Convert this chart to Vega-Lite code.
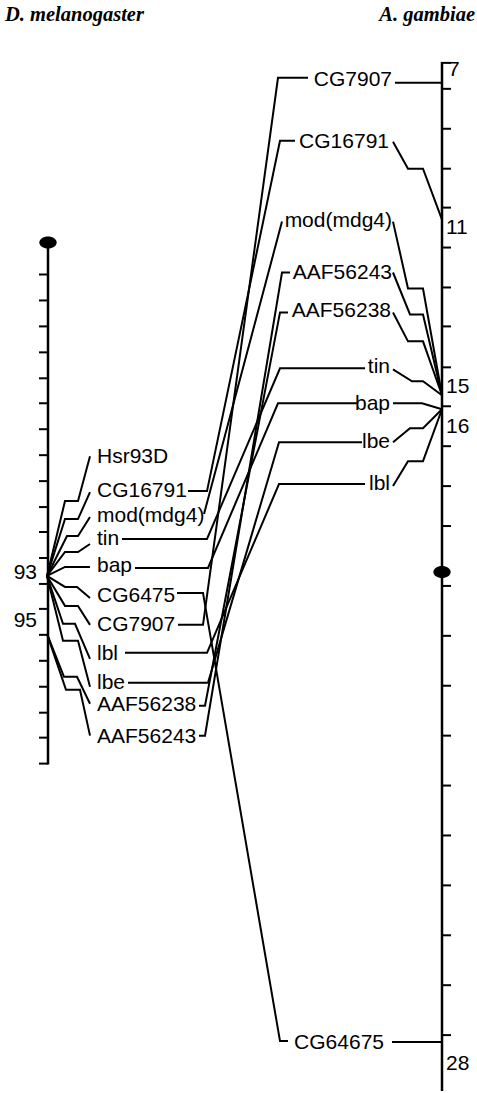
{
  "$schema": "https://vega.github.io/schema/vega-lite/v6.json",
  "width": 477,
  "height": 1093,
  "padding": 0,
  "autosize": {"type": "fit", "contains": "padding"},
  "background": "white",
  "config": {"view": {"stroke": null}},
  "datasets": {
    "paths": [
      {"g":"Hsr93D_L","i":0,"x":47,"y":577},{"g":"Hsr93D_L","i":1,"x":65,"y":502},{"g":"Hsr93D_L","i":2,"x":78,"y":502},{"g":"Hsr93D_L","i":3,"x":90,"y":457},
      {"g":"CG16791_L","i":0,"x":47,"y":577},{"g":"CG16791_L","i":1,"x":65,"y":520},{"g":"CG16791_L","i":2,"x":78,"y":520},{"g":"CG16791_L","i":3,"x":90,"y":493},
      {"g":"mod_L","i":0,"x":47,"y":577},{"g":"mod_L","i":1,"x":67,"y":537},{"g":"mod_L","i":2,"x":78,"y":537},{"g":"mod_L","i":3,"x":90,"y":518},
      {"g":"tin_L","i":0,"x":47,"y":577},{"g":"tin_L","i":1,"x":65,"y":553},{"g":"tin_L","i":2,"x":78,"y":553},{"g":"tin_L","i":3,"x":90,"y":545},
      {"g":"bap_L","i":0,"x":47,"y":577},{"g":"bap_L","i":1,"x":65,"y":568},{"g":"bap_L","i":2,"x":90,"y":568},
      {"g":"CG6475_L","i":0,"x":47,"y":577},{"g":"CG6475_L","i":1,"x":65,"y":588},{"g":"CG6475_L","i":2,"x":77,"y":588},{"g":"CG6475_L","i":3,"x":90,"y":599},
      {"g":"CG7907_L","i":0,"x":47,"y":577},{"g":"CG7907_L","i":1,"x":65,"y":607},{"g":"CG7907_L","i":2,"x":78,"y":607},{"g":"CG7907_L","i":3,"x":90,"y":626},
      {"g":"lbl_L","i":0,"x":47,"y":577},{"g":"lbl_L","i":1,"x":63,"y":625},{"g":"lbl_L","i":2,"x":75,"y":625},{"g":"lbl_L","i":3,"x":90,"y":660},
      {"g":"lbe_L","i":0,"x":47,"y":577},{"g":"lbe_L","i":1,"x":63,"y":642},{"g":"lbe_L","i":2,"x":78,"y":642},{"g":"lbe_L","i":3,"x":90,"y":688},
      {"g":"AAF56238_L","i":0,"x":47,"y":635},{"g":"AAF56238_L","i":1,"x":64,"y":678},{"g":"AAF56238_L","i":2,"x":77,"y":678},{"g":"AAF56238_L","i":3,"x":90,"y":705},
      {"g":"AAF56243_L","i":0,"x":47,"y":635},{"g":"AAF56243_L","i":1,"x":66,"y":691},{"g":"AAF56243_L","i":2,"x":80,"y":691},{"g":"AAF56243_L","i":3,"x":90,"y":737},

      {"g":"CG16791_M","i":0,"x":188,"y":492},{"g":"CG16791_M","i":1,"x":207,"y":492},{"g":"CG16791_M","i":2,"x":280,"y":141},{"g":"CG16791_M","i":3,"x":295,"y":141},
      {"g":"mod_M","i":0,"x":204,"y":515},{"g":"mod_M","i":1,"x":282,"y":222},
      {"g":"tin_M","i":0,"x":122,"y":540},{"g":"tin_M","i":1,"x":207,"y":540},{"g":"tin_M","i":2,"x":280,"y":369},{"g":"tin_M","i":3,"x":365,"y":369},
      {"g":"bap_M","i":0,"x":135,"y":569},{"g":"bap_M","i":1,"x":208,"y":569},{"g":"bap_M","i":2,"x":278,"y":404},{"g":"bap_M","i":3,"x":357,"y":404},
      {"g":"CG6475_M","i":0,"x":177,"y":594},{"g":"CG6475_M","i":1,"x":203,"y":594},{"g":"CG6475_M","i":2,"x":280,"y":1043},{"g":"CG6475_M","i":3,"x":288,"y":1043},
      {"g":"CG7907_M","i":0,"x":178,"y":626},{"g":"CG7907_M","i":1,"x":203,"y":626},{"g":"CG7907_M","i":2,"x":278,"y":78},{"g":"CG7907_M","i":3,"x":308,"y":78},
      {"g":"lbl_M","i":0,"x":125,"y":654},{"g":"lbl_M","i":1,"x":207,"y":654},{"g":"lbl_M","i":2,"x":279,"y":485},{"g":"lbl_M","i":3,"x":365,"y":485},
      {"g":"lbe_M","i":0,"x":128,"y":684},{"g":"lbe_M","i":1,"x":208,"y":684},{"g":"lbe_M","i":2,"x":279,"y":443},{"g":"lbe_M","i":3,"x":362,"y":443},
      {"g":"AAF56238_M","i":0,"x":199,"y":707},{"g":"AAF56238_M","i":1,"x":205,"y":707},{"g":"AAF56238_M","i":2,"x":280,"y":313},{"g":"AAF56238_M","i":3,"x":288,"y":313},
      {"g":"AAF56243_M","i":0,"x":199,"y":737},{"g":"AAF56243_M","i":1,"x":205,"y":737},{"g":"AAF56243_M","i":2,"x":282,"y":273},{"g":"AAF56243_M","i":3,"x":290,"y":273},

      {"g":"CG7907_R","i":0,"x":395,"y":83},{"g":"CG7907_R","i":1,"x":442,"y":83},
      {"g":"CG16791_R","i":0,"x":393,"y":142},{"g":"CG16791_R","i":1,"x":408,"y":169},{"g":"CG16791_R","i":2,"x":423,"y":169},{"g":"CG16791_R","i":3,"x":442,"y":220},
      {"g":"mod_R","i":0,"x":393,"y":222},{"g":"mod_R","i":1,"x":408,"y":289},{"g":"mod_R","i":2,"x":423,"y":289},{"g":"mod_R","i":3,"x":442,"y":396},
      {"g":"AAF56243_R","i":0,"x":393,"y":273},{"g":"AAF56243_R","i":1,"x":410,"y":315},{"g":"AAF56243_R","i":2,"x":423,"y":315},{"g":"AAF56243_R","i":3,"x":442,"y":396},
      {"g":"AAF56238_R","i":0,"x":393,"y":313},{"g":"AAF56238_R","i":1,"x":408,"y":342},{"g":"AAF56238_R","i":2,"x":423,"y":342},{"g":"AAF56238_R","i":3,"x":442,"y":396},
      {"g":"tin_R","i":0,"x":393,"y":370},{"g":"tin_R","i":1,"x":412,"y":382},{"g":"tin_R","i":2,"x":423,"y":382},{"g":"tin_R","i":3,"x":442,"y":396},
      {"g":"bap_R","i":0,"x":393,"y":404},{"g":"bap_R","i":1,"x":422,"y":404},{"g":"bap_R","i":2,"x":442,"y":410},
      {"g":"lbe_R","i":0,"x":393,"y":443},{"g":"lbe_R","i":1,"x":410,"y":429},{"g":"lbe_R","i":2,"x":423,"y":429},{"g":"lbe_R","i":3,"x":442,"y":410},
      {"g":"lbl_R","i":0,"x":393,"y":487},{"g":"lbl_R","i":1,"x":408,"y":462},{"g":"lbl_R","i":2,"x":423,"y":462},{"g":"lbl_R","i":3,"x":442,"y":410},
      {"g":"CG64675_R","i":0,"x":392,"y":1044},{"g":"CG64675_R","i":1,"x":442,"y":1044}
    ],
    "rules": [
      {"x":48,"y":243,"x2":48,"y2":766,"w":2.5},
      {"x":442,"y":62,"x2":442,"y2":1093,"w":2.5},
      {"x":441,"y":63,"x2":451,"y2":63,"w":2},
      {"x":39,"y":275,"x2":48,"y2":275,"w":2},{"x":39,"y":301,"x2":48,"y2":301,"w":2},{"x":39,"y":327,"x2":48,"y2":327,"w":2},{"x":39,"y":353,"x2":48,"y2":353,"w":2},
      {"x":39,"y":379,"x2":48,"y2":379,"w":2},{"x":39,"y":404,"x2":48,"y2":404,"w":2},{"x":39,"y":430,"x2":48,"y2":430,"w":2},{"x":39,"y":456,"x2":48,"y2":456,"w":2},
      {"x":39,"y":482,"x2":48,"y2":482,"w":2},{"x":39,"y":508,"x2":48,"y2":508,"w":2},{"x":39,"y":533,"x2":48,"y2":533,"w":2},{"x":39,"y":559,"x2":48,"y2":559,"w":2},
      {"x":39,"y":585,"x2":48,"y2":585,"w":2},{"x":39,"y":610,"x2":48,"y2":610,"w":2},{"x":39,"y":636,"x2":48,"y2":636,"w":2},{"x":39,"y":662,"x2":48,"y2":662,"w":2},
      {"x":39,"y":688,"x2":48,"y2":688,"w":2},{"x":39,"y":714,"x2":48,"y2":714,"w":2},{"x":39,"y":739,"x2":48,"y2":739,"w":2},{"x":39,"y":765,"x2":48,"y2":765,"w":2},
      {"x":442,"y":89,"x2":451,"y2":89,"w":2},{"x":442,"y":129,"x2":451,"y2":129,"w":2},{"x":442,"y":169,"x2":451,"y2":169,"w":2},{"x":442,"y":208,"x2":451,"y2":208,"w":2},
      {"x":442,"y":248,"x2":451,"y2":248,"w":2},{"x":442,"y":288,"x2":451,"y2":288,"w":2},{"x":442,"y":327,"x2":451,"y2":327,"w":2},{"x":442,"y":368,"x2":451,"y2":368,"w":2},
      {"x":442,"y":407,"x2":451,"y2":407,"w":2},{"x":442,"y":447,"x2":451,"y2":447,"w":2},{"x":442,"y":487,"x2":451,"y2":487,"w":2},{"x":442,"y":527,"x2":451,"y2":527,"w":2},
      {"x":442,"y":587,"x2":451,"y2":587,"w":2},{"x":442,"y":637,"x2":451,"y2":637,"w":2},{"x":442,"y":687,"x2":451,"y2":687,"w":2},{"x":442,"y":737,"x2":451,"y2":737,"w":2},
      {"x":442,"y":787,"x2":451,"y2":787,"w":2},{"x":442,"y":837,"x2":451,"y2":837,"w":2},{"x":442,"y":887,"x2":451,"y2":887,"w":2},{"x":442,"y":937,"x2":451,"y2":937,"w":2},
      {"x":442,"y":987,"x2":451,"y2":987,"w":2},{"x":442,"y":1037,"x2":451,"y2":1037,"w":2}
    ],
    "ovals": [
      {"x":48,"y":243},
      {"x":442,"y":573}
    ],
    "leftText": [
      {"t":"Hsr93D","x":97,"y":458},
      {"t":"CG16791","x":97,"y":492},
      {"t":"mod(mdg4)","x":97,"y":517},
      {"t":"tin","x":97,"y":540},
      {"t":"bap","x":97,"y":567},
      {"t":"CG6475","x":97,"y":597},
      {"t":"CG7907","x":97,"y":626},
      {"t":"lbl","x":97,"y":655},
      {"t":"lbe","x":97,"y":684},
      {"t":"AAF56238","x":97,"y":706},
      {"t":"AAF56243","x":97,"y":738},
      {"t":"7","x":448,"y":70},
      {"t":"11","x":446,"y":228},
      {"t":"15","x":446,"y":388},
      {"t":"16","x":446,"y":428},
      {"t":"28","x":446,"y":1066}
    ],
    "rightText": [
      {"t":"CG7907","x":392,"y":80},
      {"t":"CG16791","x":389,"y":142},
      {"t":"mod(mdg4)","x":392,"y":221},
      {"t":"AAF56243","x":392,"y":273},
      {"t":"AAF56238","x":391,"y":312},
      {"t":"tin","x":390,"y":368},
      {"t":"bap","x":390,"y":405},
      {"t":"lbe","x":390,"y":443},
      {"t":"lbl","x":390,"y":485},
      {"t":"CG64675","x":384,"y":1045},
      {"t":"93","x":37,"y":574},
      {"t":"95","x":37,"y":622}
    ],
    "titles": [
      {"t":"D. melanogaster","x":5,"y":15,"a":"left"},
      {"t":"A. gambiae","x":475,"y":15,"a":"right"}
    ]
  },
  "layer": [
    {
      "data": {"name": "rules"},
      "mark": {"type": "rule", "color": "black", "strokeCap": "butt"},
      "encoding": {
        "x": {"field": "x", "type": "quantitative", "scale": {"domain": [0, 477], "nice": false, "zero": false}, "axis": null},
        "y": {"field": "y", "type": "quantitative", "scale": {"domain": [0, 1093], "nice": false, "zero": false, "reverse": true}, "axis": null},
        "x2": {"field": "x2"},
        "y2": {"field": "y2"},
        "strokeWidth": {"field": "w", "type": "quantitative", "scale": null}
      }
    },
    {
      "data": {"name": "paths"},
      "mark": {"type": "line", "color": "black", "strokeWidth": 2, "strokeJoin": "miter"},
      "encoding": {
        "x": {"field": "x", "type": "quantitative"},
        "y": {"field": "y", "type": "quantitative"},
        "detail": {"field": "g", "type": "nominal"},
        "order": {"field": "i", "type": "quantitative"}
      }
    },
    {
      "data": {"name": "ovals"},
      "mark": {"type": "point", "shape": "M-1,0A1,0.7 0 1,1 1,0A1,0.7 0 1,1 -1,0Z", "filled": true, "color": "black", "opacity": 1, "size": 300},
      "encoding": {
        "x": {"field": "x", "type": "quantitative"},
        "y": {"field": "y", "type": "quantitative"}
      }
    },
    {
      "data": {"name": "leftText"},
      "mark": {"type": "text", "align": "left", "baseline": "middle", "font": "Liberation Sans", "fontSize": 21, "color": "black"},
      "encoding": {
        "x": {"field": "x", "type": "quantitative"},
        "y": {"field": "y", "type": "quantitative"},
        "text": {"field": "t"}
      }
    },
    {
      "data": {"name": "rightText"},
      "mark": {"type": "text", "align": "right", "baseline": "middle", "font": "Liberation Sans", "fontSize": 21, "color": "black"},
      "encoding": {
        "x": {"field": "x", "type": "quantitative"},
        "y": {"field": "y", "type": "quantitative"},
        "text": {"field": "t"}
      }
    },
    {
      "data": {"name": "titles"},
      "transform": [{"filter": "datum.a == 'left'"}],
      "mark": {"type": "text", "align": "left", "baseline": "middle", "font": "Liberation Serif", "fontSize": 20.5, "fontStyle": "italic", "fontWeight": "bold", "color": "black"},
      "encoding": {
        "x": {"field": "x", "type": "quantitative"},
        "y": {"field": "y", "type": "quantitative"},
        "text": {"field": "t"}
      }
    },
    {
      "data": {"name": "titles"},
      "transform": [{"filter": "datum.a == 'right'"}],
      "mark": {"type": "text", "align": "right", "baseline": "middle", "font": "Liberation Serif", "fontSize": 20.5, "fontStyle": "italic", "fontWeight": "bold", "color": "black"},
      "encoding": {
        "x": {"field": "x", "type": "quantitative"},
        "y": {"field": "y", "type": "quantitative"},
        "text": {"field": "t"}
      }
    }
  ]
}
